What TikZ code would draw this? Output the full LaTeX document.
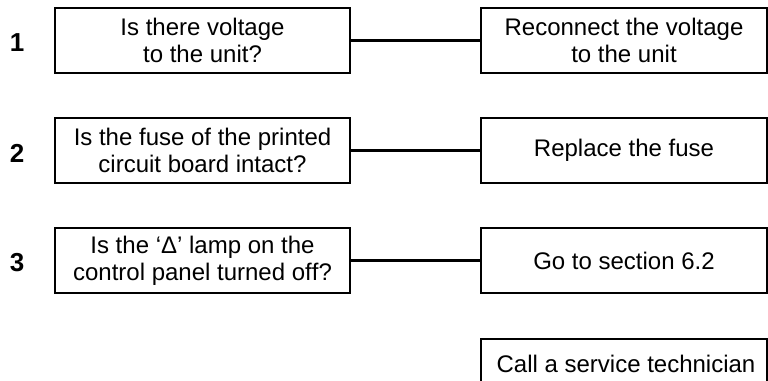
\documentclass[tikz,border=0pt]{standalone}
\usepackage{fontspec}
\setmainfont[Ligatures=NoCommon]{Liberation Sans}
\begin{document}
\begin{tikzpicture}[x=1pt,y=-1pt,
  txt/.style={font=\fontsize{24}{27}\selectfont},
  qbox/.style={txt,draw,line width=2.2pt,minimum width=295pt,minimum height=65pt,inner sep=0pt,align=center},
  abox/.style={txt,draw,line width=2.2pt,minimum width=286pt,minimum height=65pt,inner sep=0pt,align=center},
  num/.style={font=\fontsize{26}{28}\selectfont\bfseries},
  link/.style={line width=2.2pt}]
\useasboundingbox (0,0) rectangle (768,380);
\clip (0,0) rectangle (768,380);
\node[num] (n1) at (17,43) {1};
\node[num] (n2) at (17,153) {2};
\node[num] (n3) at (17,263) {3};
\node[qbox] (q1) at (202.5,40.5) {Is there voltage\\to the unit?};
\node[qbox] (q2) at (202.5,150.5) {Is the fuse of the printed\\circuit board intact?};
\node[qbox] (q3) at (202.5,260.5) {Is the ‘Δ’ lamp on the\\control panel turned of\kern0pt f?};
\node[abox] (a1) at (624,40.5) {Reconnect the voltage\\to the unit};
\node[abox] (a2) at (624,150.5) {Replace the fuse};
\node[abox] (a3) at (624,260.5) {Go to section 6.2};
\node[abox,anchor=north,minimum height=80pt] (a4) at (624,338) {};
\node[txt,anchor=base] (t4) at (626,372) {Call a service technician};
\draw[link] (q1) -- (a1);
\draw[link] (q2) -- (a2);
\draw[link] (q3) -- (a3);
\end{tikzpicture}
\end{document}
